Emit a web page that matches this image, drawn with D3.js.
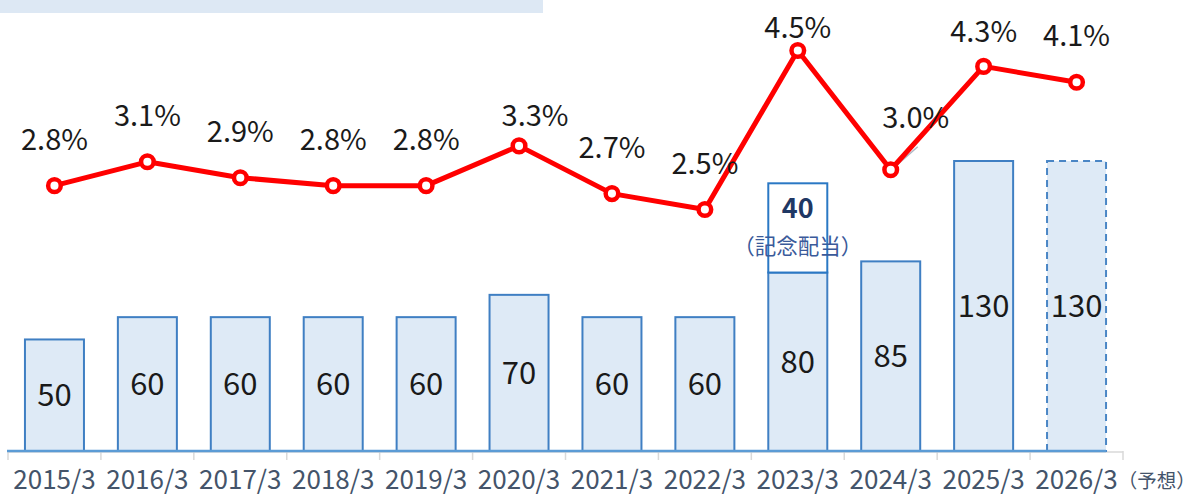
<!DOCTYPE html>
<html><head><meta charset="utf-8">
<script src="https://cdn.jsdelivr.net/npm/d3@7/dist/d3.min.js"></script>
<style>
html,body{margin:0;padding:0;background:#fff;}
svg{display:block;font-family:"Noto Sans CJK JP","Noto Sans",sans-serif;}
</style></head>
<body><svg id="c" width="1199" height="497"></svg>
<script>
const categories = ["2015/3","2016/3","2017/3","2018/3","2019/3","2020/3","2021/3","2022/3","2023/3","2024/3","2025/3","2026/3"];
const dividends = [50,60,60,60,60,70,60,60,80,85,130,130];
const commemorative = [0,0,0,0,0,0,0,0,40,0,0,0];
const ratios = [2.8,3.1,2.9,2.8,2.8,3.3,2.7,2.5,4.5,3.0,4.3,4.1];
const forecastSuffix = "（予想）";
const commemorativeLabel = "（記念配当）";
// label nudges (layout only)
const labelDx = [0,0,0,0,0,16,0,0,0,25,0,0];
const labelDy = [0,0,0,0,0,16,0,0,23,-6,12,0];

const FONT = '"Noto Sans CJK JP","Noto Sans",sans-serif';
const svg = d3.select("#c");
svg.append("rect").attr("x",0).attr("y",0).attr("width",543).attr("height",13).attr("fill","#dde8f4");

const x = d3.scaleBand().domain(categories).range([8,1123]).paddingInner(0.365).paddingOuter(0.1825);
const y = d3.scaleLinear().domain([0,130]).range([451,161]);
const yp = d3.scaleLinear().domain([2.5,4.5]).range([209.5,50.5]);
const base = 451;

// grey axis + boundary ticks
svg.append("line").attr("x1",8).attr("x2",1123).attr("y1",base+1).attr("y2",base+1).attr("stroke","#d9d9d9").attr("stroke-width",1.5);
const bounds = categories.map(c=>x(c)-x.step()*x.paddingInner()/2).concat([1123]);
svg.selectAll("line.tk").data(bounds).join("line").attr("class","tk")
  .attr("x1",d=>d).attr("x2",d=>d).attr("y1",base).attr("y2",base+9)
  .attr("stroke","#d9d9d9").attr("stroke-width",1.5);

// bars
const last = categories.length-1;
svg.selectAll("rect.bar").data(categories).join("rect").attr("class","bar")
  .attr("x",d=>x(d)).attr("width",x.bandwidth())
  .attr("y",(d,i)=>y(dividends[i])).attr("height",(d,i)=>base-y(dividends[i]))
  .attr("fill","#deeaf6").attr("stroke",(d,i)=>i===last?"#4a86c5":"#3f7fc3").attr("stroke-width",2)
  .attr("stroke-dasharray",(d,i)=>i===last?"7,5":null);

// commemorative box
svg.selectAll("rect.com").data(categories.filter((d,i)=>commemorative[i]>0)).join("rect").attr("class","com")
  .attr("x",d=>x(d)).attr("width",x.bandwidth())
  .attr("y",d=>{const i=categories.indexOf(d);return y(dividends[i]+commemorative[i]);})
  .attr("height",d=>{const i=categories.indexOf(d);return y(dividends[i])-y(dividends[i]+commemorative[i]);})
  .attr("fill","#fff").attr("stroke","#2a78c4").attr("stroke-width",2);
categories.forEach((d,i)=>{
  if(commemorative[i]>0){
    const cx = x(d)+x.bandwidth()/2;
    const top = y(dividends[i]+commemorative[i]);
    svg.append("text").attr("x",cx).attr("y",top+35).attr("text-anchor","middle")
      .attr("font-size",27).attr("font-weight","bold").attr("fill","#1f3864").text(commemorative[i]);
    svg.append("text").attr("x",cx).attr("y",top+71).attr("text-anchor","middle")
      .attr("font-size",21.5).attr("fill","#3a5a9a").text(commemorativeLabel);
  }
});

// bar value labels
svg.selectAll("text.val").data(categories).join("text").attr("class","val")
  .attr("x",d=>x(d)+x.bandwidth()/2)
  .attr("y",(d,i)=>(y(dividends[i])+base)/2)
  .attr("dy","0.36em").attr("text-anchor","middle").attr("font-size",31).attr("fill","#1a1a1a")
  .text((d,i)=>dividends[i]);

// blue baseline
svg.append("line").attr("x1",7).attr("x2",x(categories[last])+x.bandwidth()).attr("y1",base).attr("y2",base)
  .attr("stroke","#5b9bd5").attr("stroke-width",2.5);

// axis labels
const axis = svg.append("g").attr("transform",`translate(0,${base})`)
  .call(d3.axisBottom(x).tickSize(0).tickPadding(0));
axis.select(".domain").remove();
axis.attr("font-family",FONT).attr("font-size",26);
axis.selectAll("text").attr("y",38).attr("dy",0).attr("font-size",26).attr("fill","#44546a")
  .attr("font-family",FONT);
const lastTick = axis.selectAll(".tick").filter(d=>d===categories[last]);
const lt = lastTick.select("text");
const w = lt.node().getComputedTextLength();
lastTick.append("text").attr("x",w/2).attr("y",37).attr("text-anchor","start").attr("font-size",19.5).attr("fill","#44546a")
  .attr("font-family",FONT).text(forecastSuffix);

// leader line for nudged label
categories.forEach((d,i)=>{
  if(labelDx[i]>20){
    const px = x(d)+x.bandwidth()/2, py = yp(ratios[i]);
    svg.append("line").attr("x1",px+2).attr("y1",py-1).attr("x2",px+labelDx[i]+2).attr("y2",py-23)
      .attr("stroke","#b0b7c3").attr("stroke-width",1.5);
  }
});

// ratio line
const line = d3.line().x((d,i)=>x(categories[i])+x.bandwidth()/2).y(d=>yp(d));
svg.append("path").datum(ratios).attr("d",line).attr("fill","none").attr("stroke","#ff0000")
  .attr("stroke-width",5).attr("stroke-linejoin","round");
svg.selectAll("circle.pt").data(ratios).join("circle").attr("class","pt")
  .attr("cx",(d,i)=>x(categories[i])+x.bandwidth()/2).attr("cy",d=>yp(d)).attr("r",6.3)
  .attr("fill","#fff").attr("stroke","#ff0000").attr("stroke-width",4.5);

svg.selectAll("text.pct").data(ratios).join("text").attr("class","pct")
  .attr("x",(d,i)=>x(categories[i])+x.bandwidth()/2+labelDx[i])
  .attr("y",(d,i)=>yp(d)-36+labelDy[i])
  .attr("text-anchor","middle").attr("font-size",29).attr("fill","#1a1a1a")
  .text(d=>d.toFixed(1)+"%");
</script></body></html>
